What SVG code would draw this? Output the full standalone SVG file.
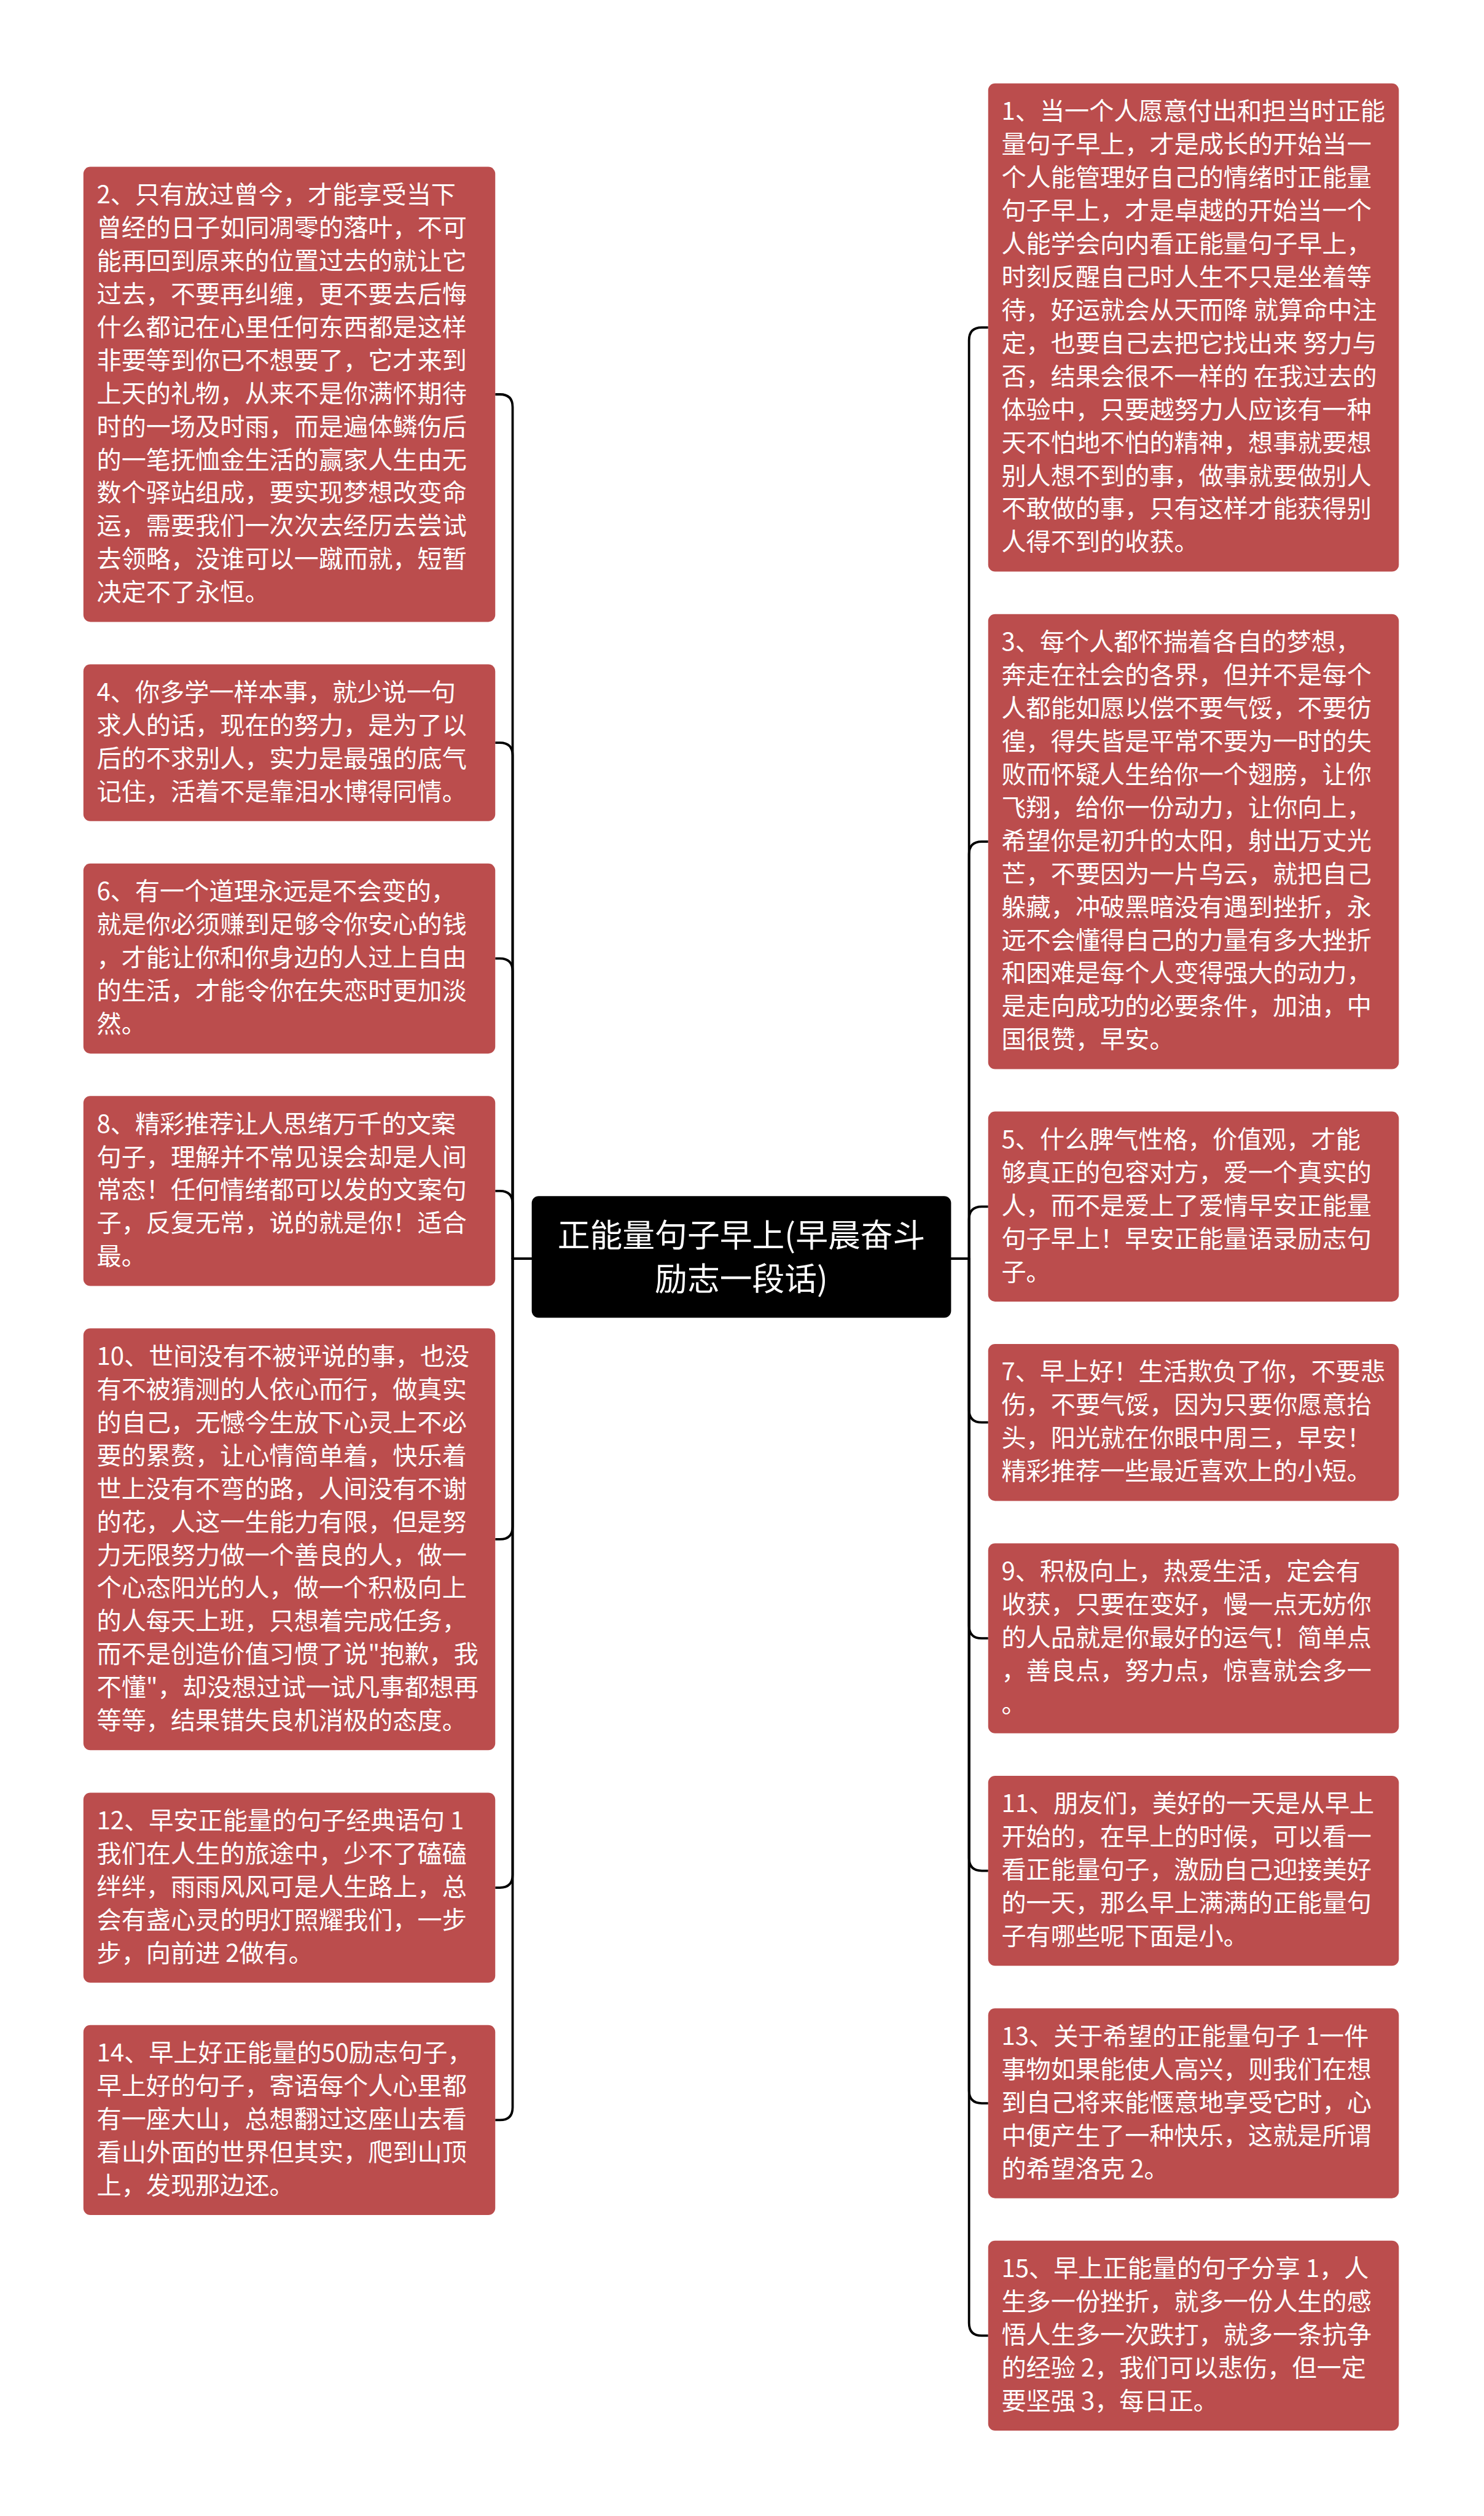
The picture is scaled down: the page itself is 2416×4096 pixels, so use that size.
<svg xmlns="http://www.w3.org/2000/svg" width="2416" height="4096" viewBox="0 0 2416 4096">
<style>
.box{fill:#bb4d4d}
.t{font-family:"Noto Sans CJK SC","Noto Sans CJK TC",sans-serif;font-size:42.6px;fill:#ffffff}
.ct{font-family:"Noto Sans CJK SC","Noto Sans CJK TC",sans-serif;font-size:56px;fill:#ffffff;text-anchor:middle}
.c{fill:none;stroke:#000000;stroke-width:4;stroke-linejoin:round}
</style>
<rect x="0" y="0" width="2416" height="4096" fill="#ffffff"/>
<g transform="scale(0.943)">
<g id="connectors">
<path class="c" d="M918 2173 H885 V702.8 Q885 680.8 863 680.8 H855"/>
<path class="c" d="M918 2173 H885 V1304.2 Q885 1282.2 863 1282.2 H855"/>
<path class="c" d="M918 2173 H885 V1676.8 Q885 1654.8 863 1654.8 H855"/>
<path class="c" d="M918 2173 H885 V2078 Q885 2056 863 2056 H855"/>
<path class="c" d="M918 2173 H885 V2635.4 Q885 2657.4 863 2657.4 H855"/>
<path class="c" d="M918 2173 H885 V3236.8 Q885 3258.8 863 3258.8 H855"/>
<path class="c" d="M918 2173 H885 V3638 Q885 3660 863 3660 H855"/>
<path class="c" d="M1642 2173 H1673 V587.4 Q1673 565.4 1695 565.4 H1706"/>
<path class="c" d="M1642 2173 H1673 V1474.9 Q1673 1452.9 1695 1452.9 H1706"/>
<path class="c" d="M1642 2173 H1673 V2105 Q1673 2083 1695 2083 H1706"/>
<path class="c" d="M1642 2173 H1673 V2433.7 Q1673 2455.7 1695 2455.7 H1706"/>
<path class="c" d="M1642 2173 H1673 V2806.4 Q1673 2828.4 1695 2828.4 H1706"/>
<path class="c" d="M1642 2173 H1673 V3207.7 Q1673 3229.7 1695 3229.7 H1706"/>
<path class="c" d="M1642 2173 H1673 V3609 Q1673 3631 1695 3631 H1706"/>
<path class="c" d="M1642 2173 H1673 V4010.3 Q1673 4032.3 1695 4032.3 H1706"/>
</g>
<g id="center">
<rect x="918" y="2065" width="724" height="210" rx="12" fill="#000000"/>
<text class="ct" x="1280" y="2153">正能量句子早上(早晨奋斗</text>
<text class="ct" x="1280" y="2228">励志一段话)</text>
</g>
<g id="n2">
<rect class="box" x="144" y="288" width="711" height="785.6" rx="12"/>
<text class="t" x="167" y="351"><tspan x="167" dy="0">2、只有放过曾今，才能享受当下</tspan><tspan x="167" dy="57.2">曾经的日子如同凋零的落叶，不可</tspan><tspan x="167" dy="57.2">能再回到原来的位置过去的就让它</tspan><tspan x="167" dy="57.2">过去，不要再纠缠，更不要去后悔</tspan><tspan x="167" dy="57.2">什么都记在心里任何东西都是这样</tspan><tspan x="167" dy="57.2">非要等到你已不想要了，它才来到</tspan><tspan x="167" dy="57.2">上天的礼物，从来不是你满怀期待</tspan><tspan x="167" dy="57.2">时的一场及时雨，而是遍体鳞伤后</tspan><tspan x="167" dy="57.2">的一笔抚恤金生活的赢家人生由无</tspan><tspan x="167" dy="57.2">数个驿站组成，要实现梦想改变命</tspan><tspan x="167" dy="57.2">运，需要我们一次次去经历去尝试</tspan><tspan x="167" dy="57.2">去领略，没谁可以一蹴而就，短暂</tspan><tspan x="167" dy="57.2">决定不了永恒。</tspan></text>
</g>
<g id="n4">
<rect class="box" x="144" y="1146.8" width="711" height="270.8" rx="12"/>
<text class="t" x="167" y="1209.8"><tspan x="167" dy="0">4、你多学一样本事，就少说一句</tspan><tspan x="167" dy="57.2">求人的话，现在的努力，是为了以</tspan><tspan x="167" dy="57.2">后的不求别人，实力是最强的底气</tspan><tspan x="167" dy="57.2">记住，活着不是靠泪水博得同情。</tspan></text>
</g>
<g id="n6">
<rect class="box" x="144" y="1490.8" width="711" height="328" rx="12"/>
<text class="t" x="167" y="1553.8"><tspan x="167" dy="0">6、有一个道理永远是不会变的，</tspan><tspan x="167" dy="57.2">就是你必须赚到足够令你安心的钱</tspan><tspan x="167" dy="57.2">，才能让你和你身边的人过上自由</tspan><tspan x="167" dy="57.2">的生活，才能令你在失恋时更加淡</tspan><tspan x="167" dy="57.2">然。</tspan></text>
</g>
<g id="n8">
<rect class="box" x="144" y="1892" width="711" height="328" rx="12"/>
<text class="t" x="167" y="1955"><tspan x="167" dy="0">8、精彩推荐让人思绪万千的文案</tspan><tspan x="167" dy="57.2">句子，理解并不常见误会却是人间</tspan><tspan x="167" dy="57.2">常态！任何情绪都可以发的文案句</tspan><tspan x="167" dy="57.2">子，反复无常，说的就是你！适合</tspan><tspan x="167" dy="57.2">最。</tspan></text>
</g>
<g id="n10">
<rect class="box" x="144" y="2293.2" width="711" height="728.4" rx="12"/>
<text class="t" x="167" y="2356.2"><tspan x="167" dy="0">10、世间没有不被评说的事，也没</tspan><tspan x="167" dy="57.2">有不被猜测的人依心而行，做真实</tspan><tspan x="167" dy="57.2">的自己，无憾今生放下心灵上不必</tspan><tspan x="167" dy="57.2">要的累赘，让心情简单着，快乐着</tspan><tspan x="167" dy="57.2">世上没有不弯的路，人间没有不谢</tspan><tspan x="167" dy="57.2">的花，人这一生能力有限，但是努</tspan><tspan x="167" dy="57.2">力无限努力做一个善良的人，做一</tspan><tspan x="167" dy="57.2">个心态阳光的人，做一个积极向上</tspan><tspan x="167" dy="57.2">的人每天上班，只想着完成任务，</tspan><tspan x="167" dy="57.2">而不是创造价值习惯了说"抱歉，我</tspan><tspan x="167" dy="57.2">不懂"，却没想过试一试凡事都想再</tspan><tspan x="167" dy="57.2">等等，结果错失良机消极的态度。</tspan></text>
</g>
<g id="n12">
<rect class="box" x="144" y="3094.8" width="711" height="328" rx="12"/>
<text class="t" x="167" y="3157.8"><tspan x="167" dy="0">12、早安正能量的句子经典语句 1</tspan><tspan x="167" dy="57.2">我们在人生的旅途中，少不了磕磕</tspan><tspan x="167" dy="57.2">绊绊，雨雨风风可是人生路上，总</tspan><tspan x="167" dy="57.2">会有盏心灵的明灯照耀我们，一步</tspan><tspan x="167" dy="57.2">步，向前进 2做有。</tspan></text>
</g>
<g id="n14">
<rect class="box" x="144" y="3496" width="711" height="328" rx="12"/>
<text class="t" x="167" y="3559"><tspan x="167" dy="0">14、早上好正能量的50励志句子，</tspan><tspan x="167" dy="57.2">早上好的句子，寄语每个人心里都</tspan><tspan x="167" dy="57.2">有一座大山，总想翻过这座山去看</tspan><tspan x="167" dy="57.2">看山外面的世界但其实，爬到山顶</tspan><tspan x="167" dy="57.2">上，发现那边还。</tspan></text>
</g>
<g id="n1">
<rect class="box" x="1706" y="144" width="709" height="842.8" rx="12"/>
<text class="t" x="1729" y="207"><tspan x="1729" dy="0">1、当一个人愿意付出和担当时正能</tspan><tspan x="1729" dy="57.2">量句子早上，才是成长的开始当一</tspan><tspan x="1729" dy="57.2">个人能管理好自己的情绪时正能量</tspan><tspan x="1729" dy="57.2">句子早上，才是卓越的开始当一个</tspan><tspan x="1729" dy="57.2">人能学会向内看正能量句子早上，</tspan><tspan x="1729" dy="57.2">时刻反醒自己时人生不只是坐着等</tspan><tspan x="1729" dy="57.2">待，好运就会从天而降 就算命中注</tspan><tspan x="1729" dy="57.2">定，也要自己去把它找出来 努力与</tspan><tspan x="1729" dy="57.2">否，结果会很不一样的 在我过去的</tspan><tspan x="1729" dy="57.2">体验中，只要越努力人应该有一种</tspan><tspan x="1729" dy="57.2">天不怕地不怕的精神，想事就要想</tspan><tspan x="1729" dy="57.2">别人想不到的事，做事就要做别人</tspan><tspan x="1729" dy="57.2">不敢做的事，只有这样才能获得别</tspan><tspan x="1729" dy="57.2">人得不到的收获。</tspan></text>
</g>
<g id="n3">
<rect class="box" x="1706" y="1060.1" width="709" height="785.6" rx="12"/>
<text class="t" x="1729" y="1123.1"><tspan x="1729" dy="0">3、每个人都怀揣着各自的梦想，</tspan><tspan x="1729" dy="57.2">奔走在社会的各界，但并不是每个</tspan><tspan x="1729" dy="57.2">人都能如愿以偿不要气馁，不要彷</tspan><tspan x="1729" dy="57.2">徨，得失皆是平常不要为一时的失</tspan><tspan x="1729" dy="57.2">败而怀疑人生给你一个翅膀，让你</tspan><tspan x="1729" dy="57.2">飞翔，给你一份动力，让你向上，</tspan><tspan x="1729" dy="57.2">希望你是初升的太阳，射出万丈光</tspan><tspan x="1729" dy="57.2">芒，不要因为一片乌云，就把自己</tspan><tspan x="1729" dy="57.2">躲藏，冲破黑暗没有遇到挫折，永</tspan><tspan x="1729" dy="57.2">远不会懂得自己的力量有多大挫折</tspan><tspan x="1729" dy="57.2">和困难是每个人变得强大的动力，</tspan><tspan x="1729" dy="57.2">是走向成功的必要条件，加油，中</tspan><tspan x="1729" dy="57.2">国很赞，早安。</tspan></text>
</g>
<g id="n5">
<rect class="box" x="1706" y="1919" width="709" height="328" rx="12"/>
<text class="t" x="1729" y="1982"><tspan x="1729" dy="0">5、什么脾气性格，价值观，才能</tspan><tspan x="1729" dy="57.2">够真正的包容对方，爱一个真实的</tspan><tspan x="1729" dy="57.2">人，而不是爱上了爱情早安正能量</tspan><tspan x="1729" dy="57.2">句子早上！早安正能量语录励志句</tspan><tspan x="1729" dy="57.2">子。</tspan></text>
</g>
<g id="n7">
<rect class="box" x="1706" y="2320.3" width="709" height="270.8" rx="12"/>
<text class="t" x="1729" y="2383.3"><tspan x="1729" dy="0">7、早上好！生活欺负了你，不要悲</tspan><tspan x="1729" dy="57.2">伤，不要气馁，因为只要你愿意抬</tspan><tspan x="1729" dy="57.2">头，阳光就在你眼中周三，早安！</tspan><tspan x="1729" dy="57.2">精彩推荐一些最近喜欢上的小短。</tspan></text>
</g>
<g id="n9">
<rect class="box" x="1706" y="2664.4" width="709" height="328" rx="12"/>
<text class="t" x="1729" y="2727.4"><tspan x="1729" dy="0">9、积极向上，热爱生活，定会有</tspan><tspan x="1729" dy="57.2">收获，只要在变好，慢一点无妨你</tspan><tspan x="1729" dy="57.2">的人品就是你最好的运气！简单点</tspan><tspan x="1729" dy="57.2">，善良点，努力点，惊喜就会多一</tspan><tspan x="1729" dy="57.2">。</tspan></text>
</g>
<g id="n11">
<rect class="box" x="1706" y="3065.7" width="709" height="328" rx="12"/>
<text class="t" x="1729" y="3128.7"><tspan x="1729" dy="0">11、朋友们，美好的一天是从早上</tspan><tspan x="1729" dy="57.2">开始的，在早上的时候，可以看一</tspan><tspan x="1729" dy="57.2">看正能量句子，激励自己迎接美好</tspan><tspan x="1729" dy="57.2">的一天，那么早上满满的正能量句</tspan><tspan x="1729" dy="57.2">子有哪些呢下面是小。</tspan></text>
</g>
<g id="n13">
<rect class="box" x="1706" y="3467" width="709" height="328" rx="12"/>
<text class="t" x="1729" y="3530"><tspan x="1729" dy="0">13、关于希望的正能量句子 1一件</tspan><tspan x="1729" dy="57.2">事物如果能使人高兴，则我们在想</tspan><tspan x="1729" dy="57.2">到自己将来能惬意地享受它时，心</tspan><tspan x="1729" dy="57.2">中便产生了一种快乐，这就是所谓</tspan><tspan x="1729" dy="57.2">的希望洛克 2。</tspan></text>
</g>
<g id="n15">
<rect class="box" x="1706" y="3868.3" width="709" height="328" rx="12"/>
<text class="t" x="1729" y="3931.3"><tspan x="1729" dy="0">15、早上正能量的句子分享 1，人</tspan><tspan x="1729" dy="57.2">生多一份挫折，就多一份人生的感</tspan><tspan x="1729" dy="57.2">悟人生多一次跌打，就多一条抗争</tspan><tspan x="1729" dy="57.2">的经验 2，我们可以悲伤，但一定</tspan><tspan x="1729" dy="57.2">要坚强 3，每日正。</tspan></text>
</g>
</g>
</svg>
